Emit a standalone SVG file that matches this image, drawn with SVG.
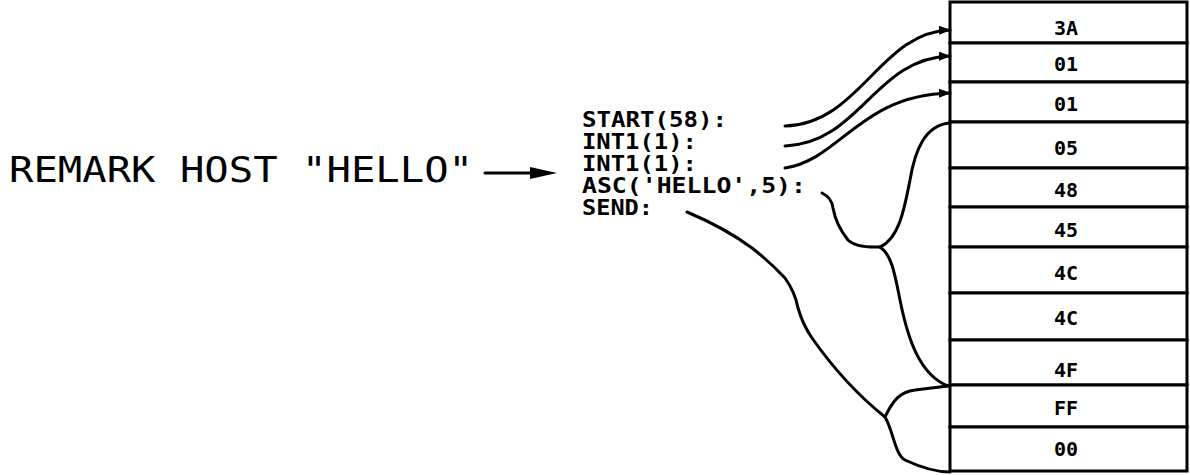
<svg xmlns="http://www.w3.org/2000/svg" width="1190" height="475" viewBox="0 0 1190 475">
  <defs>
    <style>
      .remark { font-family: "DejaVu Sans Mono", "Liberation Mono", monospace; font-size: 36px; fill: #000; }
      .code { font-family: "DejaVu Sans Mono", "Liberation Mono", monospace; font-weight: bold; font-size: 21px; fill: #000; }
      .cell { fill: #fff; stroke: #000; stroke-width: 3; }
      .val { font-family: "DejaVu Sans Mono", "Liberation Mono", monospace; font-weight: bold; font-size: 20px; fill: #000; text-anchor: middle; }
      .wire { fill: none; stroke: #000; stroke-width: 3; stroke-linecap: round; stroke-linejoin: round; }
    </style>
    <marker id="head" viewBox="0 0 12 10" refX="11" refY="5" markerWidth="12" markerHeight="10" markerUnits="userSpaceOnUse" orient="auto">
      <path d="M0,0.5 L12,5 L0,9.5 Z" fill="#000"/>
    </marker>
  </defs>
  <rect width="1190" height="475" fill="#fff"/>

  <g id="remark">
    <text class="remark" x="9" y="182" textLength="464" lengthAdjust="spacingAndGlyphs">REMARK HOST "HELLO"</text>
  </g>

  <g id="code">
    <text class="code" x="582" y="127" textLength="145" lengthAdjust="spacingAndGlyphs">START(58):</text>
    <text class="code" x="582" y="149" textLength="115" lengthAdjust="spacingAndGlyphs">INT1(1):</text>
    <text class="code" x="582" y="171" textLength="115" lengthAdjust="spacingAndGlyphs">INT1(1):</text>
    <text class="code" x="582" y="193" textLength="224" lengthAdjust="spacingAndGlyphs">ASC('HELLO',5):</text>
    <text class="code" x="582" y="215" textLength="71" lengthAdjust="spacingAndGlyphs">SEND:</text>
  </g>

  <g id="table">
    <g id="row-3A"><rect class="cell" x="950" y="2" width="237" height="41"/><text class="val" x="1066" y="35">3A</text></g>
    <g id="row-01a"><rect class="cell" x="950" y="43" width="237" height="39"/><text class="val" x="1066" y="71">01</text></g>
    <g id="row-01b"><rect class="cell" x="950" y="82" width="237" height="40"/><text class="val" x="1066" y="111">01</text></g>
    <g id="row-05"><rect class="cell" x="950" y="122" width="237" height="46"/><text class="val" x="1066" y="155">05</text></g>
    <g id="row-48"><rect class="cell" x="950" y="168" width="237" height="39"/><text class="val" x="1066" y="197">48</text></g>
    <g id="row-45"><rect class="cell" x="950" y="207" width="237" height="40"/><text class="val" x="1066" y="237">45</text></g>
    <g id="row-4C-a"><rect class="cell" x="950" y="247" width="237" height="46"/><text class="val" x="1066" y="280">4C</text></g>
    <g id="row-4C-b"><rect class="cell" x="950" y="293" width="237" height="47"/><text class="val" x="1066" y="325">4C</text></g>
    <g id="row-4F"><rect class="cell" x="950" y="340" width="237" height="45"/><text class="val" x="1066" y="377">4F</text></g>
    <g id="row-FF"><rect class="cell" x="950" y="385" width="237" height="42"/><text class="val" x="1066" y="415">FF</text></g>
    <g id="row-00"><rect class="cell" x="950" y="427" width="237" height="44"/><text class="val" x="1066" y="456">00</text></g>
  </g>

  <g id="connectors">
    <line class="wire" x1="485" y1="173" x2="532" y2="173"/>
    <path d="M530,167 L557,173 L530,179 Z" fill="#000"/>
    <path class="wire" d="M785,126 C860,124 880,32 950,30" marker-end="url(#head)"/>
    <path class="wire" d="M785,146 C860,143 875,58 950,56" marker-end="url(#head)"/>
    <path class="wire" d="M785,168 C840,160 860,95 950,93" marker-end="url(#head)"/>
    <path class="wire" d="M822,193 Q832,198 833,208 Q836,225 848,240 Q856,248 880,247"/>
    <path class="wire" d="M880,247 C900,238 905,205 910,180 C915,150 925,125 950,123"/>
    <path class="wire" d="M880,247 C892,255 895,275 900,300 C908,340 920,375 948,386"/>
    <path class="wire" d="M687,212 Q725,228 752,248 Q770,262 785,278 Q795,292 798,308 Q803,325 812,338 Q845,385 885,417"/>
    <path class="wire" d="M885,417 C893,400 900,392 915,390 L948,386"/>
    <path class="wire" d="M885,417 C893,430 895,455 905,460 C920,467 935,472 950,472"/>
  </g>
</svg>
